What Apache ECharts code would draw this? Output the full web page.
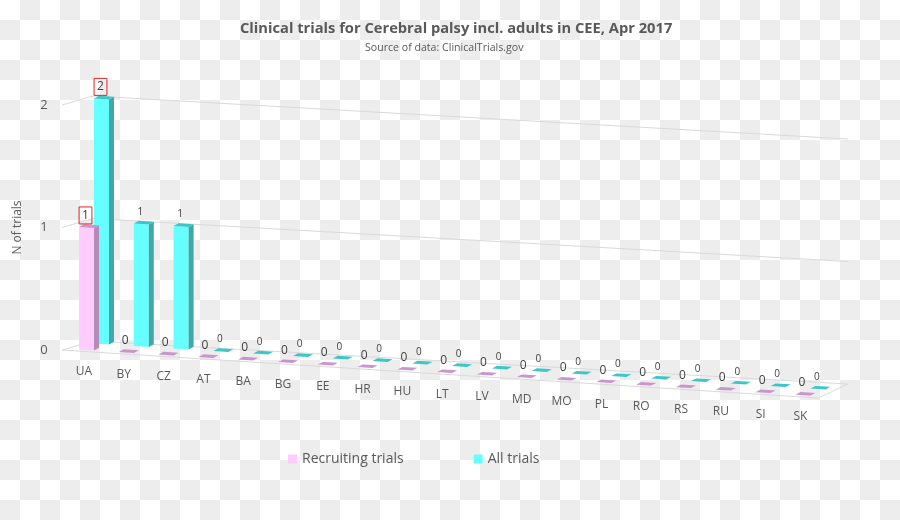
<!DOCTYPE html>
<html>
<head>
<meta charset="utf-8">
<script src="https://cdn.jsdelivr.net/npm/echarts@6/dist/echarts.min.js"></script>
<style>
html,body{margin:0;padding:0;}
#chart{width:900px;height:520px;background-color:#fff;
background-image:conic-gradient(#ededed 25%, #fff 0 50%, #ededed 0 75%, #fff 0);
background-size:40px 40px;}
</style>
</head>
<body>
<div id="chart"></div>
<script>
const categories = ['UA','BY','CZ','AT','BA','BG','EE','HR','HU','LT','LV','MD','MO','PL','RO','RS','RU','SI','SK'];
const recruitingTrials = [1,0,0,0,0,0,0,0,0,0,0,0,0,0,0,0,0,0,0];
const allTrials = [2,1,1,0,0,0,0,0,0,0,0,0,0,0,0,0,0,0,0];
const yTicks = [0,1,2];
const seriesNames = ['Recruiting trials','All trials'];
const titleText = 'Clinical trials for Cerebral palsy incl. adults in CEE, Apr 2017';
const subText = 'Source of data: ClinicalTrials.gov';

const FONT = 'Open Sans';
const TXT = '#595959';
const SLOPE = 0.063;
const DEPTH_X = 15, DEPTH_Y = -7;
const BAR_W = 15, TOP_DX = 5, TOP_DY = -3;
const faces = [
  {front:'#ffccff', side:'#b68cb6', top:'#c995cc', font:12},
  {front:'#66ffff', side:'#3fa9a9', top:'#3cc6c6', font:10}
];

function barRenderer(s){
  return function(params, api){
    const i = api.value(0), v = api.value(1);
    const x0 = api.coord([0,0])[0];
    const b = api.coord([i,0]);
    const t = api.coord([i,v]);
    const cx = b[0] + s*DEPTH_X;
    const by = b[1] + s*DEPTH_Y;
    const ty = t[1] + s*DEPTH_Y;
    const L = cx - BAR_W/2, R = cx + BAR_W/2;
    const P = (x,y)=>[x, y + SLOPE*(x-x0)];
    const f = faces[s];
    const children = [];
    if (v > 0){
      children.push({type:'polygon', shape:{points:[P(L,ty),P(R,ty),P(R,by),P(L,by)]}, style:{fill:f.front}});
      children.push({type:'polygon', shape:{points:[P(R,ty),P(R+TOP_DX,ty+TOP_DY),P(R+TOP_DX,by+TOP_DY),P(R,by)]}, style:{fill:f.side}});
    }
    children.push({type:'polygon', shape:{points:[P(L,ty),P(R,ty),P(R+TOP_DX,ty+TOP_DY),P(L+TOP_DX,ty+TOP_DY)]}, style:{fill:f.top}});
    const lp = P(cx-1, ty-12);
    const boxed = (i === 0);
    children.push({type:'text', x:lp[0], y:lp[1], style:{
      text:String(v), fill:'#404040', font:(boxed?12:f.font)+'px "'+FONT+'"',
      align:'center', verticalAlign:'middle',
      borderColor: boxed ? '#e02424' : null, borderWidth: boxed ? 1 : 0,
      padding: boxed ? [3,3,2,3] : 0
    }});
    return {type:'group', children};
  };
}

function wallRenderer(params, api){
  const cs = params.coordSys;
  const v = api.value(1);
  const y = api.coord([0,v])[1];
  const FLx = cs.x - 4.6, BLx = cs.x + 26.4, BRx = cs.x + cs.width + 25;
  const BL = [BLx, y-9];
  const BR = [BRx, y - 9 + 0.057*(BRx-BLx)];
  const children = [{type:'polyline', shape:{points:[[FLx,y],BL,BR]}, style:{stroke:'#d9d9d9', lineWidth:1, fill:null}}];
  if (v === 0){
    const FRx = cs.x + cs.width - 4.5;
    const FR = [FRx, y + 0.0635*(FRx-FLx)];
    children.push({type:'polyline', shape:{points:[[FLx,y],FR,BR]}, style:{stroke:'#d9d9d9', lineWidth:1, fill:null}});
  }
  return {type:'group', children};
}

function catLabelRenderer(params, api){
  const i = api.value(0);
  const x0 = api.coord([0,0])[0];
  const b = api.coord([i,0]);
  const x = b[0]-2.5;
  const y = b[1] + SLOPE*(x-x0) + 22;
  return {type:'text', x, y, style:{text:categories[i], fill:TXT, font:'12px "'+FONT+'"', align:'center', verticalAlign:'middle'}};
}

const chart = echarts.init(document.getElementById('chart'));
chart.setOption({
  animation:false,
  backgroundColor:'transparent',
  title:[
    {text:titleText, left:235, top:16,
      textStyle:{fontFamily:FONT, fontSize:14.7, fontWeight:'bold', color:TXT}},
    {text:subText, left:360, top:37,
      textStyle:{fontFamily:FONT, fontSize:10.6, fontWeight:'normal', color:TXT}}
  ],
  legend:{data:seriesNames, left:283, top:447, itemWidth:9, itemHeight:9, itemGap:70, icon:'rect',
    textStyle:{fontFamily:FONT, fontSize:14, color:TXT}},
  grid:{left:66.6, right:77.2, top:105, bottom:170},
  xAxis:{type:'category', data:categories, show:false},
  yAxis:{type:'value', min:0, max:2, interval:1,
    name:'N of trials', nameLocation:'middle', nameGap:43, nameRotate:90,
    nameTextStyle:{fontFamily:FONT, fontSize:12, color:TXT},
    axisLine:{show:false}, axisTick:{show:false}, splitLine:{show:false},
    axisLabel:{margin:19, fontFamily:FONT, fontSize:13, color:TXT}},
  series:[
    {type:'custom', name:'walls', silent:true, z:1, data:yTicks.map(v=>[0,v]), renderItem:wallRenderer},
    {type:'custom', name:'cats', silent:true, z:1, data:categories.map((c,i)=>[i,0]), renderItem:catLabelRenderer},
    {type:'custom', name:seriesNames[0], z:4, itemStyle:{color:faces[0].front},
      data:recruitingTrials.map((v,i)=>[i,v]), renderItem:barRenderer(0)},
    {type:'custom', name:seriesNames[1], z:3, itemStyle:{color:faces[1].front},
      data:allTrials.map((v,i)=>[i,v]), renderItem:barRenderer(1)}
  ]
});
</script>
</body>
</html>
